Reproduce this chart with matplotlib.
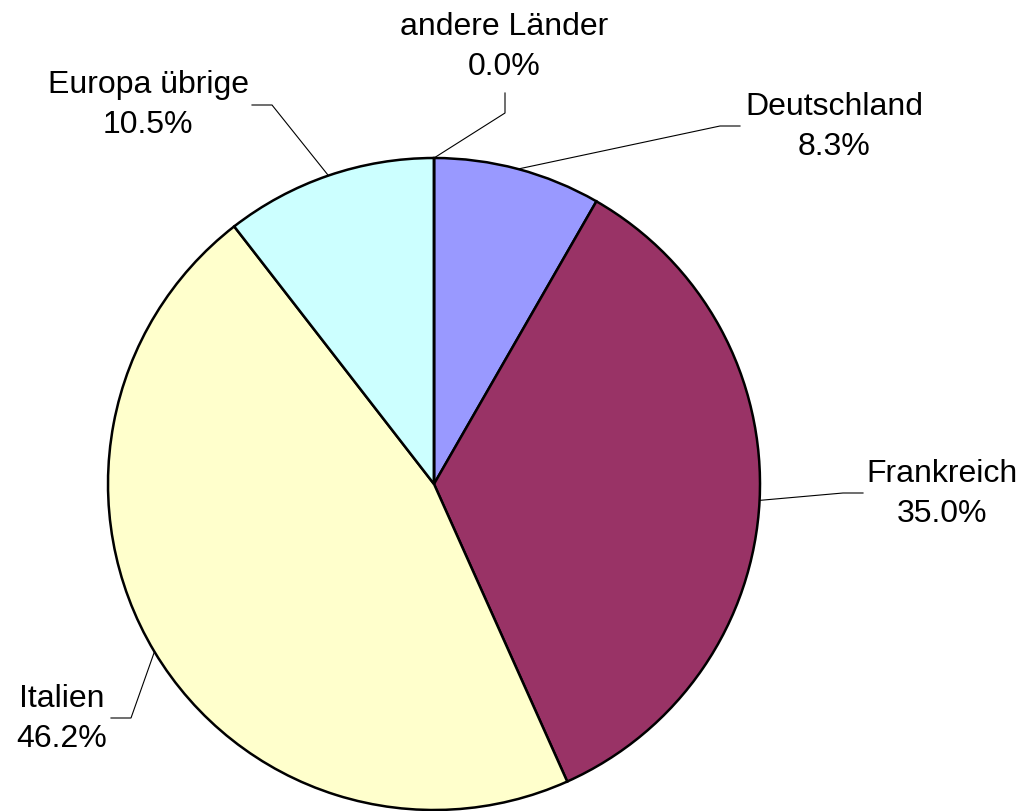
import matplotlib.pyplot as plt
import numpy as np

plt.rcParams["font.family"] = ["Liberation Sans", "DejaVu Sans"]

# data
laender = ["Deutschland", "Frankreich", "Italien", "Europa übrige", "andere Länder"]
anteile = [8.3, 35.0, 46.2, 10.5, 0.0]
farben = ["#9999FF", "#993366", "#FFFFCC", "#CCFFFF", "#FFFFFF"]

W, H = 1026, 811
cx, cy, r = 434, H - 484, 326

# label layout in pixel coords (top-left origin): text centre, elbow, end of leader
label_pos = {
    "Deutschland": ((834, 127), (720, 126), (740, 126)),
    "Frankreich": ((942, 494), (843, 493), (863, 493)),
    "Italien": ((62, 719), (131, 718), (111, 718)),
    "Europa übrige": ((148, 105), (272, 105), (252, 105)),
    "andere Länder": ((504, 47), (505, 113), (505, 93)),
}

fig = plt.figure(figsize=(W / 100, H / 100), dpi=100)
ax = fig.add_axes([0, 0, 1, 1])

wedges, _ = ax.pie(
    anteile,
    colors=farben,
    center=(cx, cy),
    radius=r,
    startangle=90,
    counterclock=False,
    wedgeprops=dict(edgecolor="black", linewidth=1.8),
)

for w, name, val in zip(wedges, laender, anteile):
    mid = np.deg2rad((w.theta1 + w.theta2) / 2)
    ax_x, ax_y = cx + r * np.cos(mid), cy + r * np.sin(mid)
    (tx, ty), (ex, ey), (fx, fy) = label_pos[name]
    ax.plot(
        [ax_x, ex, fx],
        [ax_y, H - ey, H - fy],
        color="black",
        lw=0.8,
        solid_joinstyle="miter",
    )
    ax.text(
        tx,
        H - ty,
        f"{name}\n{val:.1f}%",
        ha="center",
        va="center",
        multialignment="center",
        fontsize=23,
        linespacing=1.42,
    )

ax.set_aspect("equal")
ax.set_xlim(0, W)
ax.set_ylim(0, H)
ax.axis("off")

fig.savefig("out.png", dpi=100)
